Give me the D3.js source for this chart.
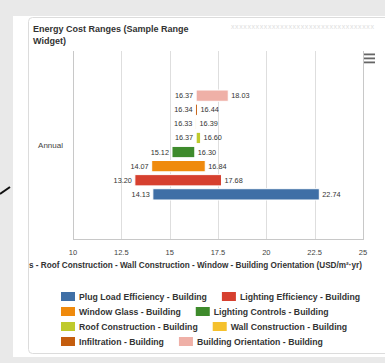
<!DOCTYPE html>
<html>
<head>
<meta charset="utf-8">
<script src="https://cdn.jsdelivr.net/npm/d3@7"></script>
<style>
  html, body { margin: 0; padding: 0; background: #e9e9e9; overflow: hidden; }
  svg { display: block; font-family: "Liberation Sans", Arial, sans-serif; }
</style>
</head>
<body>
<div id="chart"></div>
<script>
// data
const categories = ['Annual'];
const seriesNames = [
  'Plug Load Efficiency - Building',
  'Lighting Efficiency - Building',
  'Window Glass - Building',
  'Lighting Controls - Building',
  'Roof Construction - Building',
  'Wall Construction - Building',
  'Infiltration - Building',
  'Building Orientation - Building',
];
const lows = [14.13, 13.2, 14.07, 15.12, 16.37, 16.33, 16.34, 16.37];
const highs = [22.74, 17.68, 16.84, 16.3, 16.6, 16.39, 16.44, 18.03];
const colors = ['#3f6fa6', '#d6402f', '#ef8a0c', '#3e8b2c', '#bfca2c', '#f5c12d', '#c45d0e', '#efb0a7'];
const xTicks = [10, 12.5, 15, 17.5, 20, 22.5, 25];

const width = 385;
const height = 363;
const plot = { left: 73, right: 363, top: 51, bottom: 239 };

const svg = d3.select('#chart')
  .append('svg')
  .attr('width', width)
  .attr('height', height);

// page card + chart box
svg.append('rect')
  .attr('x', 13).attr('y', 16)
  .attr('width', 400).attr('height', 341)
  .attr('fill', '#ffffff');

svg.append('rect')
  .attr('x', 28.5).attr('y', 17.5)
  .attr('width', 380).attr('height', 336)
  .attr('rx', 4)
  .attr('fill', '#ffffff')
  .attr('stroke', '#dcdcdc');

// stray mark at left edge
svg.append('line')
  .attr('x1', 0).attr('y1', 194)
  .attr('x2', 10).attr('y2', 187)
  .attr('stroke', '#111')
  .attr('stroke-width', 2);

// title
const title = svg.append('text')
  .attr('x', 33).attr('y', 32)
  .attr('fill', '#333')
  .style('font-size', '9px')
  .style('font-weight', 'bold');
title.append('tspan').attr('x', 33).text('Energy Cost Ranges (Sample Range');
title.append('tspan').attr('x', 33).attr('dy', 12).text('Widget)');

svg.append('text')
  .attr('x', 231).attr('y', 29)
  .attr('fill', '#dedede')
  .style('font-size', '7px')
  .style('letter-spacing', '0.6px')
  .text('xxxxxxxxxxxxxxxxxxxxxxxxxxxxxxxxxxx');

// menu icon
svg.selectAll('.menu')
  .data([0, 1, 2])
  .enter()
  .append('rect')
  .attr('class', 'menu')
  .attr('x', 363).attr('y', (d) => 53.5 + d * 4)
  .attr('width', 12).attr('height', 1.8)
  .attr('fill', '#666');

// scales
const x = d3.scaleLinear()
  .domain([10, 25])
  .range([plot.left, plot.right]);

const yCat = d3.scaleBand()
  .domain(categories)
  .range([plot.top, plot.bottom]);

const groupPad = 0.2 * yCat.bandwidth();
const ySeries = d3.scaleBand()
  .domain(d3.range(seriesNames.length))
  .range([yCat('Annual') + yCat.bandwidth() - groupPad, yCat('Annual') + groupPad])
  .paddingInner(0.2)
  .paddingOuter(0.1);

// grid
svg.selectAll('.grid')
  .data(xTicks)
  .enter()
  .append('line')
  .attr('class', 'grid')
  .attr('x1', (d) => Math.round(x(d)) + 0.5)
  .attr('x2', (d) => Math.round(x(d)) + 0.5)
  .attr('y1', plot.top)
  .attr('y2', plot.bottom)
  .attr('stroke', (d, i) => (i === 0 || i === xTicks.length - 1 ? '#c8c8c8' : '#dedede'));

svg.append('line')
  .attr('x1', plot.left).attr('x2', plot.right + 1)
  .attr('y1', plot.bottom + 0.5).attr('y2', plot.bottom + 0.5)
  .attr('stroke', '#c8c8c8');

// x axis labels
svg.selectAll('.xlabel')
  .data(xTicks)
  .enter()
  .append('text')
  .attr('class', 'xlabel')
  .attr('x', (d) => x(d))
  .attr('y', plot.bottom + 16)
  .attr('text-anchor', 'middle')
  .attr('fill', '#444')
  .style('font-size', '7.5px')
  .text((d) => d);

// axis title (the reference only shows its tail end)
svg.append('text')
  .attr('x', 362)
  .attr('y', 268)
  .attr('text-anchor', 'end')
  .attr('fill', '#333')
  .style('font-size', '8.2px')
  .style('font-weight', 'bold')
  .text('s - Roof Construction - Wall Construction - Window - Building Orientation (USD/m²·yr)');

// category label
svg.append('text')
  .attr('x', 63)
  .attr('y', yCat('Annual') + yCat.bandwidth() / 2 + 3)
  .attr('text-anchor', 'end')
  .attr('fill', '#444')
  .style('font-size', '8px')
  .text(categories[0]);

// bars
const bars = svg.append('g');
bars.selectAll('rect')
  .data(seriesNames)
  .enter()
  .append('rect')
  .attr('x', (d, i) => x(lows[i]))
  .attr('y', (d, i) => ySeries(i))
  .attr('width', (d, i) => Math.max(1, x(highs[i]) - x(lows[i])))
  .attr('height', ySeries.bandwidth())
  .attr('fill', (d, i) => colors[i])
  .attr('stroke', '#fff')
  .attr('stroke-width', 1);

// data labels
bars.selectAll('.low')
  .data(seriesNames)
  .enter()
  .append('text')
  .attr('class', 'low')
  .attr('x', (d, i) => x(lows[i]) - 3)
  .attr('y', (d, i) => ySeries(i) + ySeries.bandwidth() / 2 + 2.5)
  .attr('text-anchor', 'end')
  .attr('fill', '#333')
  .style('font-size', '7.3px')
  .text((d, i) => lows[i].toFixed(2));

bars.selectAll('.high')
  .data(seriesNames)
  .enter()
  .append('text')
  .attr('class', 'high')
  .attr('x', (d, i) => x(highs[i]) + 3)
  .attr('y', (d, i) => ySeries(i) + ySeries.bandwidth() / 2 + 2.5)
  .attr('fill', '#333')
  .style('font-size', '7.3px')
  .text((d, i) => highs[i].toFixed(2));

// legend, two items per row, flowing
const legend = svg.append('g');
const legendRows = d3.range(0, seriesNames.length, 2).map((i) => [i, i + 1]);
legendRows.forEach((row, r) => {
  let cx = 61;
  const cy = 292 + r * 15;
  row.forEach((i) => {
    legend.append('rect')
      .attr('x', cx).attr('y', cy)
      .attr('width', 14).attr('height', 9)
      .attr('fill', colors[i]);
    const t = legend.append('text')
      .attr('x', cx + 18).attr('y', cy + 8)
      .attr('fill', '#333')
      .style('font-size', '8.7px')
      .style('font-weight', 'bold')
      .text(seriesNames[i]);
    cx += 18 + t.node().getComputedTextLength() + 15;
  });
});
</script>
</body>
</html>
